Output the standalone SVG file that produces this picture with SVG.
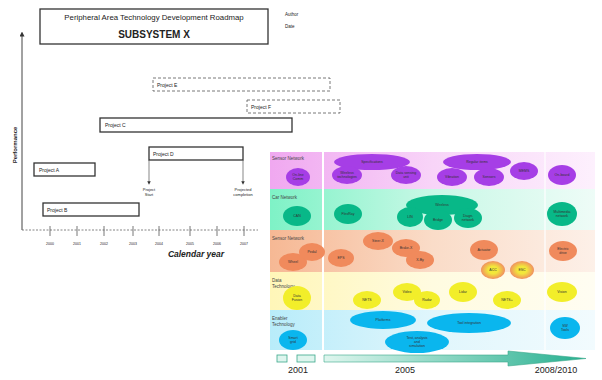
<svg xmlns="http://www.w3.org/2000/svg" width="602" height="380" viewBox="0 0 602 380">
<defs>
<style>
text{font-family:"Liberation Sans",Arial,sans-serif;fill:#222}
.box{fill:#fff;stroke:#333;stroke-width:1.3}
.dbox{fill:#fff;stroke:#555;stroke-width:0.8;stroke-dasharray:3 2}
.pl{font-size:5px}
.tk{font-size:3.5px}
.ax{stroke:#444;stroke-width:1;fill:none}
.rl{font-size:4.5px;fill:#444}
.el{font-size:3.5px;text-anchor:middle;fill:#333}
.pu{fill:#a63ee6}
.gr{fill:#08b888}
.or{fill:#f08a5c}
.ye{fill:#f2ee2a}
.cy{fill:#0ab6ee}
.yo{fill:url(#yo)}
</style>
<linearGradient id="gP" x1="0" x2="1" y1="0" y2="0"><stop offset="0" stop-color="#f0a8f0"/><stop offset="0.5" stop-color="#f8d4f8"/><stop offset="1" stop-color="#fdf0fd"/></linearGradient>
<linearGradient id="gG" x1="0" x2="1" y1="0" y2="0"><stop offset="0" stop-color="#7ef2c6"/><stop offset="0.5" stop-color="#c8f8e6"/><stop offset="1" stop-color="#eefcf7"/></linearGradient>
<linearGradient id="gO" x1="0" x2="1" y1="0" y2="0"><stop offset="0" stop-color="#f6b894"/><stop offset="0.5" stop-color="#fadcc8"/><stop offset="1" stop-color="#fdf0e8"/></linearGradient>
<linearGradient id="gY" x1="0" x2="1" y1="0" y2="0"><stop offset="0" stop-color="#fff6b8"/><stop offset="0.5" stop-color="#fffbe0"/><stop offset="1" stop-color="#fffdf2"/></linearGradient>
<linearGradient id="gC" x1="0" x2="1" y1="0" y2="0"><stop offset="0" stop-color="#b8ecfa"/><stop offset="0.5" stop-color="#e0f6fc"/><stop offset="1" stop-color="#f2fbfe"/></linearGradient>
<linearGradient id="gA" x1="0" x2="1" y1="0" y2="0"><stop offset="0" stop-color="#dff6ee"/><stop offset="1" stop-color="#28b090"/></linearGradient>
<radialGradient id="yo"><stop offset="0.4" stop-color="#f2e83a"/><stop offset="1" stop-color="#f09060"/></radialGradient>
<marker id="ar" viewBox="0 0 10 10" refX="5" refY="5" markerWidth="5" markerHeight="5" orient="auto-start-reverse"><path d="M0,0 L10,5 L0,10 z" fill="#333"/></marker>
</defs>

<g id="title">
<rect class="box" x="40" y="9" width="228" height="35"/>
<text x="154" y="20" font-size="7.8" text-anchor="middle">Peripheral Area Technology Development Roadmap</text>
<text x="154" y="38" font-size="10" font-weight="bold" text-anchor="middle">SUBSYSTEM X</text>
<text x="285" y="16" font-size="4.5">Author</text>
<text x="285" y="28" font-size="4.5">Date</text>
</g>

<g id="axes">
<line class="ax" x1="22" y1="230" x2="22" y2="34" marker-end="url(#ar)"/>
<line x1="22" y1="230" x2="258" y2="230" stroke="#666" stroke-width="0.8" stroke-dasharray="2 1.5"/>
<text transform="translate(17,145) rotate(-90)" font-size="6" font-weight="bold" text-anchor="middle">Performance</text>
<g stroke="#555" stroke-width="0.8">
<line x1="50" y1="226" x2="50" y2="236"/><line x1="77" y1="226" x2="77" y2="236"/><line x1="104" y1="226" x2="104" y2="236"/><line x1="133" y1="226" x2="133" y2="236"/><line x1="159" y1="226" x2="159" y2="236"/><line x1="190" y1="226" x2="190" y2="236"/><line x1="217" y1="226" x2="217" y2="236"/><line x1="244" y1="226" x2="244" y2="236"/>
</g>
<text class="tk" x="50" y="245" text-anchor="middle">2000</text><text class="tk" x="77" y="245" text-anchor="middle">2001</text><text class="tk" x="104" y="245" text-anchor="middle">2002</text><text class="tk" x="133" y="245" text-anchor="middle">2003</text><text class="tk" x="159" y="245" text-anchor="middle">2004</text><text class="tk" x="190" y="245" text-anchor="middle">2005</text><text class="tk" x="217" y="245" text-anchor="middle">2006</text><text class="tk" x="244" y="245" text-anchor="middle">2007</text>
<text x="196" y="257" font-size="8.5" font-weight="bold" font-style="italic" text-anchor="middle">Calendar year</text>
</g>

<g id="projE"><rect class="dbox" x="153" y="78" width="177" height="13"/><text class="pl" x="157" y="87">Project E</text></g>
<g id="projF"><rect class="dbox" x="247" y="100" width="93" height="13"/><text class="pl" x="251" y="109">Project F</text></g>
<g id="projC"><rect class="box" x="100" y="118" width="192" height="14"/><text class="pl" x="105" y="127">Project C</text></g>
<g id="projD"><rect class="box" x="149" y="147" width="94" height="13"/><text class="pl" x="153" y="156">Project D</text></g>
<g id="projA"><rect class="box" x="34" y="163" width="61" height="13"/><text class="pl" x="39" y="172">Project A</text></g>
<g id="projB"><rect class="box" x="43" y="203" width="96" height="13"/><text class="pl" x="47" y="212">Project B</text></g>

<g id="connectors">
<line x1="149" y1="160" x2="149" y2="183" stroke="#555" stroke-width="0.7" marker-end="url(#ar)"/>
<line x1="243" y1="160" x2="243" y2="183" stroke="#555" stroke-width="0.7" marker-end="url(#ar)"/>
<line x1="450" y1="316" x2="552" y2="318" stroke="#8aa" stroke-width="0.6"/>
<line x1="450" y1="333" x2="552" y2="334" stroke="#8aa" stroke-width="0.6"/>
</g>
<g id="milestones">
<text x="149" y="191" font-size="4" text-anchor="middle">Project</text>
<text x="149" y="196" font-size="4" text-anchor="middle">Start</text>
<text x="243" y="191" font-size="4" text-anchor="middle">Projected</text>
<text x="243" y="196" font-size="4" text-anchor="middle">completion</text>
</g>

<g id="bands">
<rect x="270" y="152" width="325" height="37" fill="url(#gP)"/>
<rect x="270" y="189" width="325" height="41" fill="url(#gG)"/>
<rect x="270" y="230" width="325" height="42" fill="url(#gO)"/>
<rect x="270" y="272" width="325" height="38" fill="url(#gY)"/>
<rect x="270" y="310" width="325" height="40" fill="url(#gC)"/>
<line x1="323" y1="152" x2="323" y2="350" stroke="#fff" stroke-width="2"/>
<line x1="545" y1="152" x2="545" y2="350" stroke="#fff" stroke-width="1.5" opacity="0.8"/>
</g>

<g id="rowlabels">
<text class="rl" x="272" y="160">Sensor Network</text>
<text class="rl" x="272" y="199">Car Network</text>
<text class="rl" x="272" y="240">Sensor Network</text>
<text class="rl" x="272" y="282">Data</text>
<text class="rl" x="272" y="288">Technology</text>
<text class="rl" x="272" y="320">Enabler</text>
<text class="rl" x="272" y="326">Technology</text>
</g>

<g id="row1">
<ellipse class="pu" cx="298" cy="177" rx="12" ry="9"/><text class="el" x="298" y="176">On-line</text><text class="el" x="298" y="180">Comm</text>
<ellipse class="pu" cx="372" cy="162" rx="38" ry="8"/><text class="el" x="372" y="163">Specifications</text>
<ellipse class="pu" cx="347" cy="175" rx="15" ry="9"/><text class="el" x="347" y="174">Wireless</text><text class="el" x="347" y="178">technologies</text>
<ellipse class="pu" cx="406" cy="175" rx="15" ry="9"/><text class="el" x="406" y="174">Data sensing</text><text class="el" x="406" y="178">unit</text>
<ellipse class="pu" cx="477" cy="162" rx="34" ry="8"/><text class="el" x="477" y="163">Regular items</text>
<ellipse class="pu" cx="452" cy="177" rx="15" ry="9"/><text class="el" x="452" y="178">Vibration</text>
<ellipse class="pu" cx="489" cy="177" rx="15" ry="9"/><text class="el" x="489" y="178">Sensors</text>
<ellipse class="pu" cx="524" cy="171" rx="14" ry="9"/><text class="el" x="524" y="172">MEMS</text>
<ellipse class="pu" cx="562" cy="175" rx="14" ry="10"/><text class="el" x="562" y="176">On-board</text>
</g>

<g id="row2">
<ellipse class="gr" cx="297" cy="216" rx="14" ry="10"/><text class="el" x="297" y="217">CAN</text>
<ellipse class="gr" cx="348" cy="214" rx="14" ry="10"/><text class="el" x="348" y="215">FlexRay</text>
<ellipse class="gr" cx="442" cy="205" rx="36" ry="10"/><text class="el" x="442" y="206">Wireless</text>
<ellipse class="gr" cx="410" cy="217" rx="13" ry="10"/><text class="el" x="410" y="218">LIN</text>
<ellipse class="gr" cx="438" cy="220" rx="14" ry="10"/><text class="el" x="438" y="221">Bridge</text>
<ellipse class="gr" cx="468" cy="218" rx="14" ry="10"/><text class="el" x="468" y="217">Diagn.</text><text class="el" x="468" y="221">network</text>
<ellipse class="gr" cx="562" cy="214" rx="15" ry="12"/><text class="el" x="562" y="213">Multimedia</text><text class="el" x="562" y="217">network</text>
</g>

<g id="row3">
<ellipse class="or" cx="293" cy="262" rx="14" ry="9"/><text class="el" x="293" y="263">Wheel</text>
<ellipse class="or" cx="312" cy="252" rx="13" ry="9"/><text class="el" x="312" y="253">Pedal</text>
<ellipse class="or" cx="341" cy="258" rx="13" ry="9"/><text class="el" x="341" y="259">EPS</text>
<ellipse class="or" cx="378" cy="241" rx="15" ry="9"/><text class="el" x="378" y="242">Steer-X</text>
<ellipse class="or" cx="406" cy="248" rx="14" ry="9"/><text class="el" x="406" y="249">Brake-X</text>
<ellipse class="or" cx="420" cy="260" rx="14" ry="9"/><text class="el" x="420" y="261">X-By</text>
<ellipse class="or" cx="484" cy="250" rx="14" ry="10"/><text class="el" x="484" y="251">Actuator</text>
<ellipse class="yo" cx="493" cy="270" rx="12" ry="9"/><text class="el" x="493" y="271">ACC</text>
<ellipse class="yo" cx="522" cy="270" rx="12" ry="9"/><text class="el" x="522" y="271">ESC</text>
<ellipse class="or" cx="563" cy="251" rx="14" ry="10"/><text class="el" x="563" y="250">Electric</text><text class="el" x="563" y="254">drive</text>
</g>

<g id="row4">
<ellipse class="ye" cx="297" cy="298" rx="14" ry="12"/><text class="el" x="297" y="297">Data</text><text class="el" x="297" y="301">Fusion</text>
<ellipse class="ye" cx="367" cy="300" rx="14" ry="9"/><text class="el" x="367" y="301">NETS</text>
<ellipse class="ye" cx="407" cy="292" rx="14" ry="9"/><text class="el" x="407" y="293">Video</text>
<ellipse class="ye" cx="427" cy="300" rx="13" ry="9"/><text class="el" x="427" y="301">Radar</text>
<ellipse class="ye" cx="463" cy="292" rx="14" ry="10"/><text class="el" x="463" y="293">Lidar</text>
<ellipse class="ye" cx="507" cy="300" rx="14" ry="9"/><text class="el" x="507" y="301">NETS+</text>
<ellipse class="ye" cx="562" cy="292" rx="15" ry="10"/><text class="el" x="562" y="293">Vision</text>
</g>

<g id="row5">
<ellipse class="cy" cx="293" cy="340" rx="14" ry="10"/><text class="el" x="293" y="339">Smart</text><text class="el" x="293" y="343">grid</text>
<ellipse class="cy" cx="383" cy="320" rx="33" ry="9"/><text class="el" x="383" y="321">Platforms</text>
<ellipse class="cy" cx="469" cy="323" rx="42" ry="10"/><text class="el" x="469" y="324">Tool integration</text>
<ellipse class="cy" cx="417" cy="342" rx="32" ry="11"/><text class="el" x="417" y="339">Test, analysis</text><text class="el" x="417" y="343">and</text><text class="el" x="417" y="347">simulation</text>
<ellipse class="cy" cx="565" cy="328" rx="15" ry="11"/><text class="el" x="565" y="327">SW</text><text class="el" x="565" y="331">Tools</text>
</g>

<g id="timeline">
<rect x="277" y="355" width="10" height="7" fill="#def5ee" stroke="#3aa88a" stroke-width="0.8"/>
<rect x="297" y="355" width="18" height="7" fill="#def5ee" stroke="#3aa88a" stroke-width="0.8"/>
<path d="M324,355 H508 V351 L586,358.5 L508,366 V362 H324 Z" fill="url(#gA)" stroke="#3aa88a" stroke-width="0.6"/>
<text x="298" y="373" font-size="9" text-anchor="middle" fill="#444">2001</text>
<text x="405" y="373" font-size="9" text-anchor="middle" fill="#444">2005</text>
<text x="556" y="373" font-size="9" text-anchor="middle" fill="#444">2008/2010</text>
</g>
</svg>
